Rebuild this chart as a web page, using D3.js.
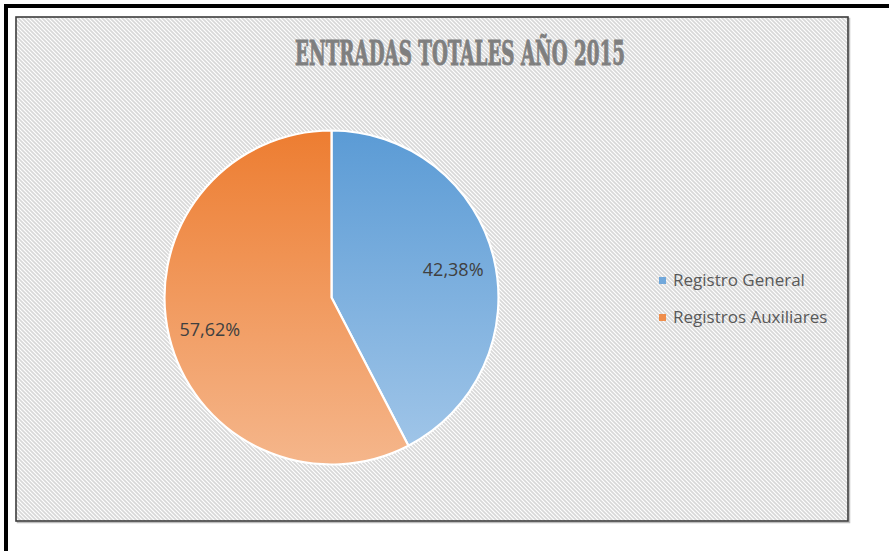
<!DOCTYPE html>
<html><head><meta charset="utf-8">
<script src="https://cdn.jsdelivr.net/npm/d3@7"></script>
<style>html,body{margin:0;padding:0;background:#fff;overflow:hidden}</style>
</head><body>
<script>
const categories = ["Registro General", "Registros Auxiliares"];
const values = [42.38, 57.62];
const labels = ["42,38%", "57,62%"];
const title = "ENTRADAS TOTALES AÑO 2015";
const topColors = ["#5b9bd5", "#ed7d31"];
const bottomColors = ["#a3c7e9", "#f5b68b"];

const W = 889, H = 551;
const svg = d3.select("body").append("svg").attr("width", W).attr("height", H);
const defs = svg.append("defs");

// striped background pattern
const pat = defs.append("pattern").attr("id", "stripes").attr("patternUnits", "userSpaceOnUse")
  .attr("width", 4).attr("height", 4);
pat.append("rect").attr("width", 4).attr("height", 4).attr("fill", "#ffffff");
pat.append("path").attr("d", "M-1,-1 L5,5 M-1,3 L1,5 M3,-1 L5,1")
  .attr("stroke", "#d8d8d8").attr("stroke-width", 1.7);

// outer black frame lines
svg.append("rect").attr("x", 4).attr("y", 4).attr("width", W - 4).attr("height", 4).attr("fill", "#000");
svg.append("rect").attr("x", 4).attr("y", 4).attr("width", 4).attr("height", H - 4).attr("fill", "#000");

// chart area
const box = {x: 16, y: 17, w: 832, h: 504};
svg.append("rect").attr("x", box.x + 1.5).attr("y", box.y + 1.5).attr("width", box.w).attr("height", box.h)
  .attr("fill", "none").attr("stroke", "#bdbdbd").attr("stroke-width", 1.5);
svg.append("rect").attr("x", box.x).attr("y", box.y).attr("width", box.w).attr("height", box.h)
  .attr("fill", "url(#stripes)").attr("stroke", "#3c3c3c").attr("stroke-width", 1.6);

// title
svg.append("text").attr("x", 460).attr("y", 65).attr("text-anchor", "middle")
  .attr("font-family", "'DejaVu Serif Condensed', 'DejaVu Serif', serif")
  .attr("font-weight", "bold").attr("font-size", 34)
  .attr("textLength", 330).attr("lengthAdjust", "spacingAndGlyphs")
  .attr("fill", "#7f7f7f").attr("stroke", "#7f7f7f").attr("stroke-width", 0.9)
  .text(title);

// pie
const cx = 331.5, cy = 297.5, r = 167;
categories.forEach((c, i) => {
  const g = defs.append("linearGradient").attr("id", "grad" + i)
    .attr("gradientUnits", "userSpaceOnUse").attr("x1", 0).attr("x2", 0)
    .attr("y1", -r).attr("y2", r);
  g.append("stop").attr("offset", "0%").attr("stop-color", topColors[i]);
  g.append("stop").attr("offset", "100%").attr("stop-color", bottomColors[i]);
});
const pie = d3.pie().sort(null).value(d => d)(values);
const arc = d3.arc().innerRadius(0).outerRadius(r);
const pg = svg.append("g").attr("transform", `translate(${cx},${cy})`);
pg.selectAll("path").data(pie).join("path")
  .attr("d", arc).attr("fill", (d, i) => `url(#grad${i})`)
  .attr("stroke", "#ffffff").attr("stroke-width", 2.2).attr("stroke-linejoin", "round");

const labelArc = d3.arc().innerRadius(r * 0.75).outerRadius(r * 0.75);
pg.selectAll("text").data(pie).join("text")
  .attr("transform", d => `translate(${labelArc.centroid(d)})`)
  .attr("text-anchor", "middle").attr("dy", "0.48em")
  .attr("font-family", "'Open Sans', sans-serif").attr("font-size", 18)
  .attr("fill", "#404040").text((d, i) => labels[i]);

// legend
const lg = svg.append("g").attr("transform", "translate(659,277)");
categories.forEach((c, i) => {
  const row = lg.append("g").attr("transform", `translate(0,${i * 37})`);
  row.append("rect").attr("width", 7).attr("height", 7)
    .attr("fill", d3.interpolateRgb(topColors[i], bottomColors[i])(0.3));
  row.append("text").attr("x", 14).attr("y", 8.5)
    .attr("font-family", "'Open Sans', sans-serif").attr("font-size", 17)
    .attr("fill", "#595959").text(c);
});
</script>
</body></html>
